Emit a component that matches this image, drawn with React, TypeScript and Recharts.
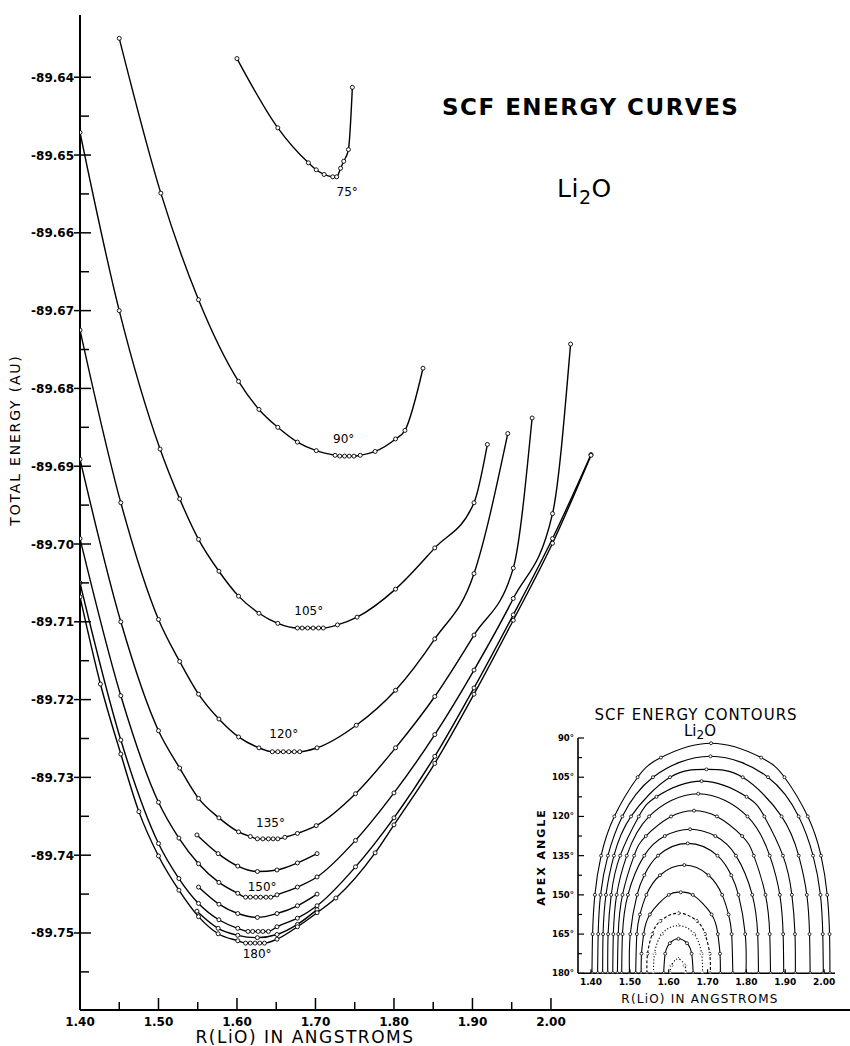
import React from 'react';
import { LineChart, Line, XAxis, YAxis, ReferenceDot } from 'recharts';

type Pt = [number, number];

// main chart: R(LiO) in angstroms vs total energy (AU), one curve per apex angle
const curve75: Pt[] = [[1.600, -89.6376], [1.652, -89.6465], [1.691, -89.6510], [1.701, -89.6519], [1.711, -89.6525], [1.722, -89.6528], [1.727, -89.6528], [1.732, -89.6517], [1.736, -89.6508], [1.742, -89.6493], [1.747, -89.6413]];
const curve90: Pt[] = [[1.450, -89.6350], [1.503, -89.6549], [1.551, -89.6686], [1.602, -89.6791], [1.628, -89.6827], [1.652, -89.6850], [1.677, -89.6869], [1.701, -89.6880], [1.725, -89.6886], [1.731, -89.6887], [1.737, -89.6887], [1.743, -89.6887], [1.749, -89.6887], [1.757, -89.6886], [1.776, -89.6881], [1.802, -89.6865], [1.814, -89.6854], [1.837, -89.6774]];
const curve105: Pt[] = [[1.400, -89.6471], [1.450, -89.6700], [1.502, -89.6878], [1.527, -89.6942], [1.551, -89.6994], [1.577, -89.7035], [1.602, -89.7067], [1.628, -89.7089], [1.652, -89.7102], [1.677, -89.7108], [1.683, -89.7108], [1.690, -89.7108], [1.697, -89.7108], [1.704, -89.7108], [1.710, -89.7108], [1.728, -89.7104], [1.753, -89.7094], [1.802, -89.7058], [1.852, -89.7005], [1.902, -89.6947], [1.919, -89.6872]];
const curve120: Pt[] = [[1.400, -89.6725], [1.452, -89.6947], [1.500, -89.7097], [1.527, -89.7151], [1.551, -89.7193], [1.577, -89.7225], [1.602, -89.7248], [1.628, -89.7262], [1.645, -89.7267], [1.652, -89.7267], [1.659, -89.7267], [1.666, -89.7267], [1.673, -89.7267], [1.680, -89.7267], [1.702, -89.7262], [1.752, -89.7233], [1.802, -89.7188], [1.852, -89.7122], [1.902, -89.7038], [1.945, -89.6858]];
const curve135: Pt[] = [[1.400, -89.6891], [1.452, -89.7100], [1.500, -89.7240], [1.527, -89.7288], [1.551, -89.7327], [1.577, -89.7352], [1.602, -89.7370], [1.617, -89.7376], [1.626, -89.7379], [1.633, -89.7379], [1.640, -89.7379], [1.646, -89.7379], [1.652, -89.7379], [1.661, -89.7377], [1.677, -89.7372], [1.701, -89.7362], [1.751, -89.7321], [1.802, -89.7262], [1.852, -89.7196], [1.902, -89.7117], [1.952, -89.7031], [1.976, -89.6838]];
const curve142: Pt[] = [[1.549, -89.7374], [1.576, -89.7398], [1.601, -89.7414], [1.626, -89.7421], [1.651, -89.7419], [1.677, -89.7410], [1.702, -89.7398]];
const curve150: Pt[] = [[1.400, -89.6993], [1.452, -89.7195], [1.500, -89.7332], [1.526, -89.7378], [1.551, -89.7411], [1.577, -89.7435], [1.601, -89.7449], [1.611, -89.7454], [1.617, -89.7454], [1.624, -89.7454], [1.630, -89.7454], [1.637, -89.7454], [1.643, -89.7454], [1.651, -89.7451], [1.677, -89.7441], [1.702, -89.7428], [1.751, -89.7381], [1.800, -89.7320], [1.852, -89.7245], [1.902, -89.7162], [1.952, -89.7070], [2.002, -89.6961], [2.025, -89.6743]];
const curve157: Pt[] = [[1.551, -89.7441], [1.577, -89.7463], [1.601, -89.7475], [1.626, -89.7480], [1.651, -89.7475], [1.677, -89.7465], [1.702, -89.7450]];
const curve165: Pt[] = [[1.400, -89.7050], [1.452, -89.7252], [1.500, -89.7385], [1.526, -89.7430], [1.551, -89.7462], [1.577, -89.7483], [1.601, -89.7494], [1.614, -89.7498], [1.620, -89.7498], [1.627, -89.7498], [1.633, -89.7498], [1.640, -89.7498], [1.651, -89.7492], [1.677, -89.7481], [1.702, -89.7465], [1.751, -89.7415], [1.800, -89.7352], [1.852, -89.7273], [1.902, -89.7185], [1.952, -89.7091], [2.002, -89.6993], [2.051, -89.6885]];
const curve172: Pt[] = [[1.549, -89.7472], [1.576, -89.7494], [1.601, -89.7503], [1.626, -89.7506], [1.651, -89.7502], [1.677, -89.7489], [1.702, -89.7470]];
const curve180: Pt[] = [[1.400, -89.7068], [1.426, -89.7180], [1.452, -89.7270], [1.475, -89.7344], [1.500, -89.7401], [1.526, -89.7445], [1.551, -89.7479], [1.576, -89.7501], [1.601, -89.7510], [1.611, -89.7513], [1.617, -89.7513], [1.623, -89.7513], [1.629, -89.7513], [1.635, -89.7513], [1.651, -89.7508], [1.677, -89.7492], [1.702, -89.7474], [1.726, -89.7455], [1.776, -89.7397], [1.800, -89.7361], [1.852, -89.7282], [1.902, -89.7193], [1.952, -89.7098], [2.002, -89.6999], [2.051, -89.6886]];

const mainSeries = [curve75, curve90, curve105, curve120, curve135, curve142, curve150, curve157, curve165, curve172, curve180];

const xTicks = [1.40, 1.45, 1.50, 1.55, 1.60, 1.65, 1.70, 1.75, 1.80, 1.85, 1.90, 1.95, 2.00];
const yTicks = [-89.64, -89.645, -89.65, -89.655, -89.66, -89.665, -89.67, -89.675, -89.68, -89.685, -89.69, -89.695, -89.70, -89.705, -89.71, -89.715, -89.72, -89.725, -89.73, -89.735, -89.74, -89.745, -89.75, -89.755];

// angle labels next to the curve minima
const angleLabels = ['75°', '90°', '105°', '120°', '135°', '150°', '180°'];
const angleLabelR = [1.7404, 1.736, 1.6915, 1.6596, 1.6427, 1.6321, 1.6257];
const angleLabelE = [-89.6547, -89.6865, -89.7086, -89.7244, -89.7358, -89.744, -89.7527];

// inset: contours in (R, apex angle)
const arch1: Pt[] = [[1.604, 180], [1.607, 177], [1.624, 174.5], [1.641, 177], [1.644, 180]];
const arch2: Pt[] = [[1.587, 180], [1.591, 172.5], [1.603, 168.5], [1.625, 166.8], [1.647, 168.5], [1.659, 172.5], [1.663, 180]];
const arch3: Pt[] = [[1.561, 180], [1.5635, 172.5], [1.5825, 165], [1.624, 161.7], [1.6655, 165], [1.6845, 172.5], [1.687, 180]];
const arch4: Pt[] = [[1.544, 180], [1.5455, 172.5], [1.5575, 165], [1.5785, 160], [1.6255, 157], [1.6725, 160], [1.6935, 165], [1.7055, 172.5], [1.707, 180]];
const arch5: Pt[] = [[1.529, 180], [1.53, 172.5], [1.5355, 165], [1.5515, 157.5], [1.6, 150], [1.631, 149], [1.662, 150], [1.7105, 157.5], [1.7265, 165], [1.732, 172.5], [1.733, 180]];
const arch6: Pt[] = [[1.515, 180], [1.518, 165], [1.526, 157.5], [1.5425, 150], [1.5775, 142.5], [1.64, 138.6], [1.7025, 142.5], [1.7375, 150], [1.754, 157.5], [1.762, 165], [1.765, 180]];
const arch7: Pt[] = [[1.499, 180], [1.501, 165], [1.5185, 150], [1.537, 142.5], [1.5725, 135], [1.649, 130.3], [1.7255, 135], [1.761, 142.5], [1.7795, 150], [1.797, 165], [1.799, 180]];
const arch8: Pt[] = [[1.479, 180], [1.481, 165], [1.495, 150], [1.537, 135], [1.59, 127.5], [1.655, 124.9], [1.72, 127.5], [1.773, 135], [1.815, 150], [1.829, 165], [1.831, 180]];
const arch9: Pt[] = [[1.468, 180], [1.47, 165], [1.481, 150], [1.511, 135], [1.541, 127.5], [1.606, 120], [1.665, 117.8], [1.724, 120], [1.789, 127.5], [1.819, 135], [1.849, 150], [1.86, 165], [1.862, 180]];
const arch10: Pt[] = [[1.456, 180], [1.4575, 165], [1.466, 150], [1.492, 135], [1.5495, 120], [1.676, 111.3], [1.8025, 120], [1.86, 135], [1.886, 150], [1.8945, 165], [1.896, 180]];
const arch11: Pt[] = [[1.443, 180], [1.444, 165], [1.452, 150], [1.475, 135], [1.523, 120], [1.5685, 112.5], [1.6845, 106.5], [1.8005, 112.5], [1.846, 120], [1.894, 135], [1.917, 150], [1.925, 165], [1.926, 180]];
const arch12: Pt[] = [[1.43, 180], [1.431, 165], [1.4385, 150], [1.459, 135], [1.503, 120], [1.6035, 105], [1.697, 102], [1.7905, 105], [1.8905, 120], [1.9345, 135], [1.9555, 150], [1.9625, 165], [1.964, 180]];
const arch13: Pt[] = [[1.417, 180], [1.4185, 165], [1.4245, 150], [1.4435, 135], [1.4805, 120], [1.5595, 105], [1.7075, 97], [1.8555, 105], [1.9345, 120], [1.9715, 135], [1.9905, 150], [1.9965, 165], [1.998, 180]];
const arch14: Pt[] = [[1.4025, 180], [1.404, 165], [1.41, 150], [1.426, 135], [1.46, 120], [1.52, 105], [1.58, 97.5], [1.709, 92], [1.838, 97.5], [1.898, 105], [1.958, 120], [1.992, 135], [2.008, 150], [2.014, 165], [2.015, 180]];

const arches = [arch1, arch2, arch3, arch4, arch5, arch6, arch7, arch8, arch9, arch10, arch11, arch12, arch13, arch14];
const archDash = ['1.2 2', '', '1.2 2', '3 2', '', '', '', '', '', '', '', '', '', ''];

const insetXTicks = [1.40, 1.50, 1.60, 1.70, 1.80, 1.90, 2.00];
const insetYTicks = [90, 97.5, 105, 112.5, 120, 127.5, 135, 142.5, 150, 157.5, 165, 172.5, 180];

const FONT = 'DejaVu Sans';
const PLOT_LEFT = 80;
const PLOT_BOTTOM = 1010;
const INSET_LEFT = 58;
const INSET_BOTTOM = 273.3;

const dotStyle = { r: 2, stroke: '#000', strokeWidth: 0.9, fill: '#fff' };
const insetDot = { r: 1.5, stroke: '#000', strokeWidth: 0.8, fill: '#fff' };

const YTick = (props: any) => {
  const { y, payload } = props;
  const v = payload.value as number;
  const major = Math.abs(Math.round(v * 1000)) % 10 === 0;
  if (!major) return <line x1={PLOT_LEFT} x2={PLOT_LEFT + 9} y1={y} y2={y} stroke="#000" strokeWidth={1.5} />;
  return (
    <g>
      <line x1={PLOT_LEFT - 6} x2={PLOT_LEFT + 11} y1={y} y2={y} stroke="#000" strokeWidth={1.5} />
      <text x={PLOT_LEFT - 6} y={y + 4.5} textAnchor="end" fontSize={12} fontWeight="bold" fontFamily={FONT} fill="#000">
        {v.toFixed(2)}
      </text>
    </g>
  );
};

const XTick = (props: any) => {
  const { x, payload } = props;
  const v = payload.value as number;
  const major = Math.round(v * 100) % 10 === 0;
  return (
    <g>
      <line x1={x} x2={x} y1={PLOT_BOTTOM} y2={PLOT_BOTTOM - (major ? 12 : 8)} stroke="#000" strokeWidth={1.5} />
      {major && (
        <text x={x} y={PLOT_BOTTOM + 16} textAnchor="middle" fontSize={12} fontWeight="bold" fontFamily={FONT} fill="#000">
          {v.toFixed(2)}
        </text>
      )}
    </g>
  );
};

const InsetYTick = (props: any) => {
  const { y, payload } = props;
  const v = payload.value as number;
  const major = v % 15 === 0;
  return (
    <g>
      <line x1={INSET_LEFT} x2={INSET_LEFT + (major ? 6 : 4)} y1={y} y2={y} stroke="#000" strokeWidth={1.2} />
      {major && (
        <text x={INSET_LEFT - 4} y={y + 3} textAnchor="end" fontSize={8.5} fontWeight="bold" fontFamily={FONT} fill="#000">
          {v}°
        </text>
      )}
    </g>
  );
};

const InsetXTick = (props: any) => {
  const { x, payload } = props;
  const v = payload.value as number;
  return (
    <g>
      <line x1={x} x2={x} y1={INSET_BOTTOM} y2={INSET_BOTTOM - 4} stroke="#000" strokeWidth={1.2} />
      <text x={x} y={INSET_BOTTOM + 12} textAnchor="middle" fontSize={9} fontWeight="bold" fontFamily={FONT} fill="#000">
        {v.toFixed(2)}
      </text>
    </g>
  );
};

const toRows = (pts: Pt[]) => pts.map(([r, e]) => ({ r, e }));
const toArch = (pts: Pt[]) => pts.map(([r, a]) => ({ r, a }));

export default function App() {
  return (
    <div style={{ position: 'absolute', left: 0, top: 0, width: 850, height: 1046, background: '#fff', overflow: 'hidden' }}>
      <div style={{ position: 'absolute', left: 0, top: 0 }}>
        <LineChart width={850} height={1046} margin={{ top: 15, right: 0, bottom: 0, left: 0 }}>
          <XAxis xAxisId="top" orientation="top" type="number" domain={[1.4, 2.381]} allowDataOverflow tick={false} tickLine={false} axisLine={{ stroke: '#000', strokeWidth: 2 }} height={0} />
          <XAxis type="number" dataKey="r" domain={[1.4, 2.381]} allowDataOverflow ticks={xTicks} interval={0} tick={<XTick />} tickLine={false} axisLine={{ stroke: '#000', strokeWidth: 2 }} height={36} />
          <YAxis type="number" dataKey="e" domain={[-89.7599, -89.632]} allowDataOverflow ticks={yTicks} interval={0} tick={<YTick />} tickLine={false} axisLine={{ stroke: '#000', strokeWidth: 2 }} width={80} />
          {mainSeries.map((pts, i) => (
            <Line key={i} data={toRows(pts)} dataKey="e" type="monotone" stroke="#000" strokeWidth={1.4} dot={dotStyle} activeDot={false} isAnimationActive={false} />
          ))}
          {angleLabels.map((t, i) => (
            <ReferenceDot key={t} x={angleLabelR[i]} y={angleLabelE[i]} r={1} fill="none" stroke="none"
              label={{ value: t, position: 'center', fontSize: 12, fill: '#000', fontFamily: FONT }} />
          ))}
        </LineChart>
      </div>
      <div style={{ position: 'absolute', left: 520, top: 700 }}>
        <LineChart width={330} height={310} margin={{ top: 38, right: 15, bottom: 0, left: 0 }}>
          <XAxis type="number" dataKey="r" domain={[1.3665, 2.028]} allowDataOverflow ticks={insetXTicks} interval={0} tick={<InsetXTick />} tickLine={false} axisLine={{ stroke: '#000', strokeWidth: 1.6 }} height={36.7} />
          <YAxis type="number" dataKey="a" domain={[90, 180]} reversed allowDataOverflow ticks={insetYTicks} interval={0} tick={<InsetYTick />} tickLine={false} axisLine={{ stroke: '#000', strokeWidth: 1.6 }} width={58} />
          {arches.map((pts, i) => (
            <Line key={i} data={toArch(pts)} dataKey="a" type="natural" stroke="#000" strokeWidth={1.1} strokeDasharray={archDash[i] || undefined} dot={insetDot} activeDot={false} isAnimationActive={false} />
          ))}
        </LineChart>
      </div>
      <svg width={850} height={1046} style={{ position: 'absolute', left: 0, top: 0, pointerEvents: 'none' }}>
        <text x={442} y={115} fontSize={23} fontWeight="bold" letterSpacing={1.5} fontFamily={FONT} fill="#000">SCF ENERGY CURVES</text>
        <text x={557} y={197} fontSize={25} fontFamily={FONT} fill="#000" letterSpacing={0.5}>
          Li<tspan fontSize={19} dy={7}>2</tspan><tspan dy={-7}>O</tspan>
        </text>
        <text transform="translate(20,440) rotate(-90)" textAnchor="middle" fontSize={14} letterSpacing={1.8} fontFamily={FONT} fill="#000">TOTAL ENERGY (AU)</text>
        <text x={305} y={1043} textAnchor="middle" fontSize={17} letterSpacing={1.5} fontFamily={FONT} fill="#000">R(LiO) IN ANGSTROMS</text>
        <text x={696} y={720} textAnchor="middle" fontSize={15} letterSpacing={1} fontFamily={FONT} fill="#000">SCF ENERGY CONTOURS</text>
        <text x={684} y={736} fontSize={15} fontFamily={FONT} fill="#000">
          Li<tspan fontSize={12} dy={3}>2</tspan><tspan dy={-3}>O</tspan>
        </text>
        <text transform="translate(545,857) rotate(-90)" textAnchor="middle" fontSize={11} fontWeight="bold" letterSpacing={2} fontFamily={FONT} fill="#000">APEX ANGLE</text>
        <text x={700} y={1003} textAnchor="middle" fontSize={12} letterSpacing={1.2} fontFamily={FONT} fill="#000">R(LiO) IN ANGSTROMS</text>
      </svg>
    </div>
  );
}
